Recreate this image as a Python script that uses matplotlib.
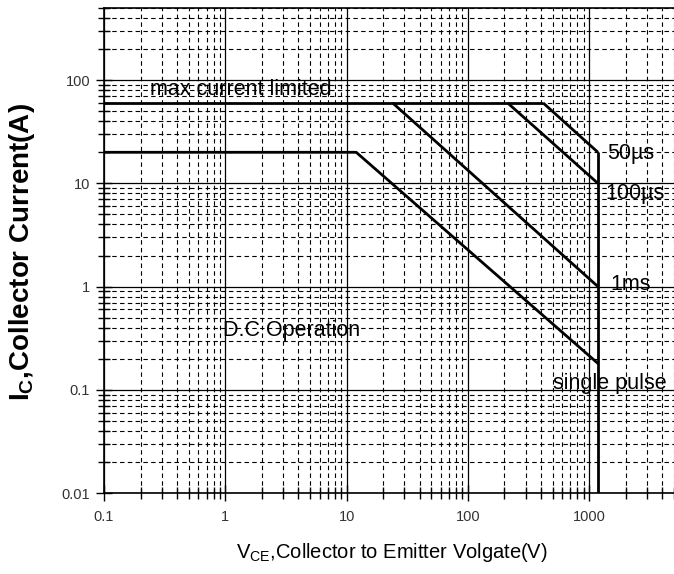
import matplotlib
matplotlib.use("Agg")
import matplotlib.pyplot as plt
from matplotlib import font_manager
from matplotlib.ticker import LogLocator, NullFormatter
import numpy as np

# Safe operating area boundaries (VCE in volts, IC in amps)
vce_dc = [0.1, 12, 1180]
ic_dc = [20, 20, 0.18]
vce_max = [0.1, 418]
ic_max = [60, 60]
vce_1ms = [24, 1180]
ic_1ms = [60, 1]
vce_100us = [213, 1180]
ic_100us = [60, 10]
vce_50us = [418, 1180]
ic_50us = [60, 20]
vce_limit = [1180, 1180]
ic_limit = [20, 0.01]

x_ticks = [0.1, 1, 10, 100, 1000]
x_tick_labels = ["0.1", "1", "10", "100", "1000"]
y_ticks = [0.01, 0.1, 1, 10, 100]
y_tick_labels = ["0.01", "0.1", "1", "10", "100"]

plt.rcParams['font.family'] = ['Liberation Sans', 'DejaVu Sans']


def has_font(name):
    try:
        font_manager.findfont(font_manager.FontProperties(family=name),
                              fallback_to_default=False)
        return True
    except Exception:
        return False


narrow = has_font('Liberation Sans Narrow')

fig = plt.figure(figsize=(6.74, 5.74), dpi=100)
ax = fig.add_axes([104/674, 1 - 493/574, 1 - 104/674, (493 - 8)/574])

ax.set_xscale('log')
ax.set_yscale('log')
ax.set_xlim(0.1, 5000)
ax.set_ylim(0.01, 500)

ax.xaxis.set_minor_locator(LogLocator(base=10, subs=np.arange(2, 10), numticks=20))
ax.yaxis.set_minor_locator(LogLocator(base=10, subs=np.arange(2, 10), numticks=20))
ax.xaxis.set_minor_formatter(NullFormatter())
ax.yaxis.set_minor_formatter(NullFormatter())

ax.set_xticks(x_ticks)
ax.set_xticklabels(x_tick_labels)
ax.set_yticks(y_ticks)
ax.set_yticklabels(y_tick_labels)

ax.grid(which='major', color='black', linewidth=0.9, linestyle='-')
ax.grid(which='minor', color='black', linewidth=0.8, linestyle=(0, (4, 3)))
ax.set_axisbelow(True)

ax.tick_params(which='both', direction='inout', color='black', width=1.0)
ax.tick_params(which='major', length=12, labelsize=10.5, labelcolor='#333333')
ax.tick_params(which='minor', length=8)
ax.tick_params(axis='x', which='major', pad=6)
ax.tick_params(axis='y', which='major', pad=4)

for side in ['left', 'bottom', 'top']:
    ax.spines[side].set_linewidth(1.2)
ax.spines['right'].set_visible(False)

lw = 2.0
for xs, ys in [(vce_dc, ic_dc), (vce_max, ic_max), (vce_1ms, ic_1ms),
               (vce_100us, ic_100us), (vce_50us, ic_50us), (vce_limit, ic_limit)]:
    ax.plot(xs, ys, color='black', linewidth=lw, solid_capstyle='butt', zorder=3)

txt = dict(color='black', fontsize=15.5, zorder=4)
ax.text(0.24, 82, "max current limited", ha='left', va='center', **txt)
ax.text(1410, 19.5, "50µs", ha='left', va='center', **txt)
ax.text(1360, 8.0, "100µs", ha='left', va='center', **txt)
ax.text(1490, 1.04, "1ms", ha='left', va='center', **txt)
ax.text(1478, 0.114, "single pulse", ha='center', va='center', **txt)
ax.text(0.95, 0.374, "D.C Operation", ha='left', va='center', **txt)

if narrow:
    xl_family, xl_size = ['Liberation Sans Narrow', 'DejaVu Sans'], 18
else:
    xl_family, xl_size = ['Liberation Sans', 'DejaVu Sans'], 14.5
fig.text(392/674, 1 - 552/574, r"V$_{\mathregular{CE}}$,Collector to Emitter Volgate(V)",
         ha='center', va='center', fontsize=xl_size, family=xl_family)
fig.text(22/674, 1 - 252/574, r"I$_{\mathregular{C}}$,Collector Current(A)",
         ha='center', va='center', rotation=90, fontsize=20, fontweight='bold')

fig.savefig("out.png", dpi=100)
